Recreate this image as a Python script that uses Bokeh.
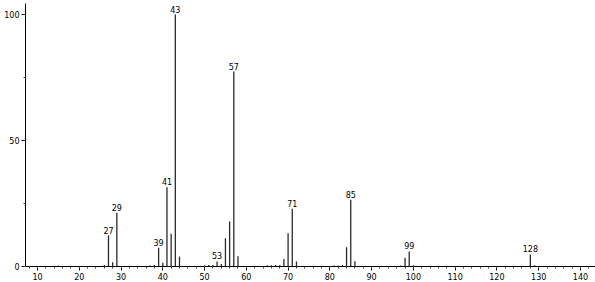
from bokeh.plotting import figure
from bokeh.models import SingleIntervalTicker, Range1d, ColumnDataSource
from bokeh.core.properties import value
from bokeh.embed import file_html
from bokeh.resources import INLINE

mz = [15, 26, 27, 28, 29, 37, 38, 39, 40, 41, 42, 43, 44, 50, 51, 52, 53, 54,
      55, 56, 57, 58, 65, 66, 67, 68, 69, 70, 71, 72, 81, 82, 83, 84, 85, 86,
      97, 98, 99, 100, 128, 129]
intensity = [0.4, 0.6, 12.3, 1.7, 21.3, 0.4, 0.6, 7.4, 1.5, 31.5, 13.0, 100, 4.0,
             0.5, 0.6, 0.6, 2.0, 1.0, 11.2, 17.9, 77.4, 4.1, 0.5, 0.5, 0.6, 0.6,
             3.0, 13.2, 22.9, 2.0, 0.4, 0.4, 0.6, 7.6, 26.5, 2.1,
             0.4, 3.5, 6.0, 0.5, 4.8, 0.5]
label_mz = [27, 29, 39, 41, 43, 53, 57, 71, 85, 99, 128]
label_int = [12.3, 21.3, 7.4, 31.5, 100, 2.0, 77.4, 22.9, 26.5, 6.0, 4.8]
label_text = ["27", "29", "39", "41", "43", "53", "57", "71", "85", "99", "128"]

p = figure(width=595, height=282, output_backend="svg", toolbar_location=None,
           x_range=Range1d(7.13, 143.6), y_range=Range1d(0, 104.4),
           min_border_left=25, min_border_right=0, min_border_top=3,
           min_border_bottom=16)
p.outline_line_color = None
p.xgrid.visible = False
p.ygrid.visible = False
p.background_fill_color = "white"

src = ColumnDataSource(dict(x=mz, top=intensity, bottom=[0] * len(mz)))
p.segment(x0="x", y0="bottom", x1="x", y1="top", source=src,
          line_color="#2a2a2a", line_width=1.3)

lsrc = ColumnDataSource(dict(x=label_mz, y=label_int, t=label_text))
p.text(x="x", y="y", text="t", source=lsrc, text_align="center",
       text_baseline="bottom", y_offset=-2, text_font=value("DejaVu Sans"),
       text_font_size="8px", text_color="black")

p.xaxis.ticker = SingleIntervalTicker(interval=10, num_minor_ticks=5)
p.yaxis.ticker = SingleIntervalTicker(interval=50, num_minor_ticks=2)
for ax in (p.xaxis[0], p.yaxis[0]):
    ax.major_tick_in = 0
    ax.major_tick_out = 4
    ax.minor_tick_in = 0
    ax.minor_tick_out = 2
    ax.axis_line_color = "black"
    ax.major_tick_line_color = "black"
    ax.minor_tick_line_color = "#444"
    ax.major_label_text_font = "DejaVu Sans"
    ax.major_label_text_font_size = "8px"
    ax.major_label_text_color = "black"
    ax.major_label_standoff = 2
p.yaxis.major_label_standoff = 2

open("out.html", "w").write(file_html(p, INLINE))
